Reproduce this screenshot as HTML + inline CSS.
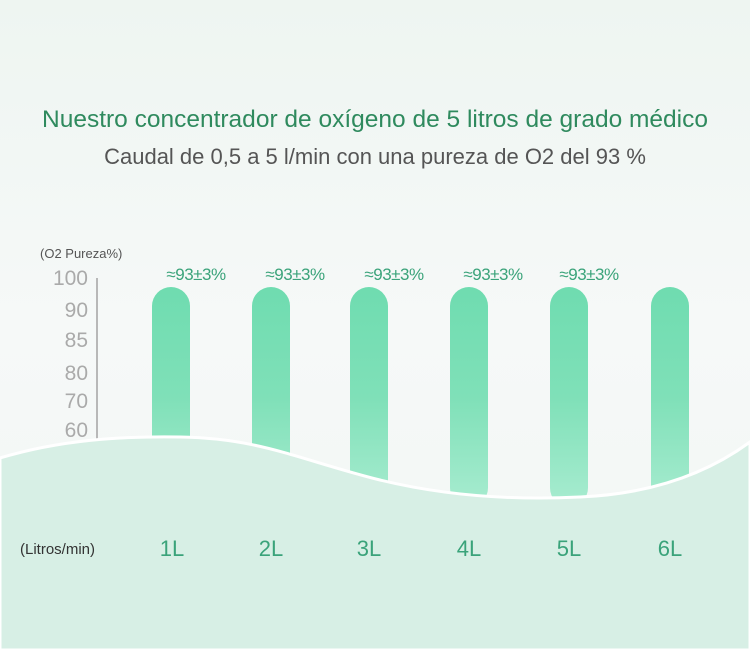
<!DOCTYPE html><html><head><meta charset="utf-8"><style>
body{margin:0;width:750px;height:650px;overflow:hidden;background:#f3f7f5;font-family:"Liberation Sans",sans-serif}
.t{position:absolute;left:0;width:750px;text-align:center}
</style></head><body>
<svg width="750" height="650" style="position:absolute;left:0;top:0">
<defs><linearGradient id="g" x1="0" y1="0" x2="0" y2="1"><stop offset="0" stop-color="#6fdcb0"/><stop offset="0.5" stop-color="#7fe0b8"/><stop offset="1" stop-color="#a8ecd0"/></linearGradient>
<linearGradient id="bg" x1="0" y1="0" x2="0" y2="1"><stop offset="0" stop-color="#eef5f1"/><stop offset="0.5" stop-color="#f6f9f8"/><stop offset="1" stop-color="#f2f6f4"/></linearGradient></defs>
<rect width="750" height="650" fill="url(#bg)"/>
<line x1="97" y1="278" x2="97" y2="440" stroke="#b8b8b8" stroke-width="2"/>
<g fill="url(#g)">
<rect x="152" y="287" width="38" height="220" rx="19"/>
<rect x="252" y="287" width="38" height="220" rx="19"/>
<rect x="350" y="287" width="38" height="220" rx="19"/>
<rect x="450" y="287" width="38" height="220" rx="19"/>
<rect x="550" y="287" width="38" height="220" rx="19"/>
<rect x="651" y="287" width="38" height="220" rx="19"/>
</g>
<path d="M0,458 C60,440 120,436 180,437 C260,438 300,460 380,480 C450,497 520,500 580,497 C650,494 705,475 750,442 L750,650 L0,650 Z" fill="#d7efe5" stroke="#fff" stroke-width="3"/>
<g font-size="21" fill="#aaa" text-anchor="end">
<text x="88" y="285">100</text><text x="88" y="317">90</text><text x="88" y="347">85</text><text x="88" y="380">80</text><text x="88" y="408">70</text><text x="88" y="437">60</text></g>
<text x="40" y="258" font-size="13" fill="#555">(O2 Pureza%)</text>
<g font-size="17" fill="#3aa37a" text-anchor="middle" letter-spacing="-0.5">
<text x="196" y="280">≈93±3%</text><text x="295" y="280">≈93±3%</text><text x="394" y="280">≈93±3%</text><text x="493" y="280">≈93±3%</text><text x="589" y="280">≈93±3%</text></g>
<text x="20" y="554" font-size="15" fill="#333">(Litros/min)</text>
<g font-size="22" fill="#3aa37a" text-anchor="middle">
<text x="172" y="556">1L</text><text x="271" y="556">2L</text><text x="369" y="556">3L</text><text x="469" y="556">4L</text><text x="569" y="556">5L</text><text x="670" y="556">6L</text></g>
</svg>
<div class="t" style="top:106px;font-size:24.5px;color:#2f8a5e">Nuestro concentrador de oxígeno de 5 litros de grado médico</div>
<div class="t" style="top:144px;font-size:22px;color:#555">Caudal de 0,5 a 5 l/min con una pureza de O2 del 93 %</div>
</body></html>
